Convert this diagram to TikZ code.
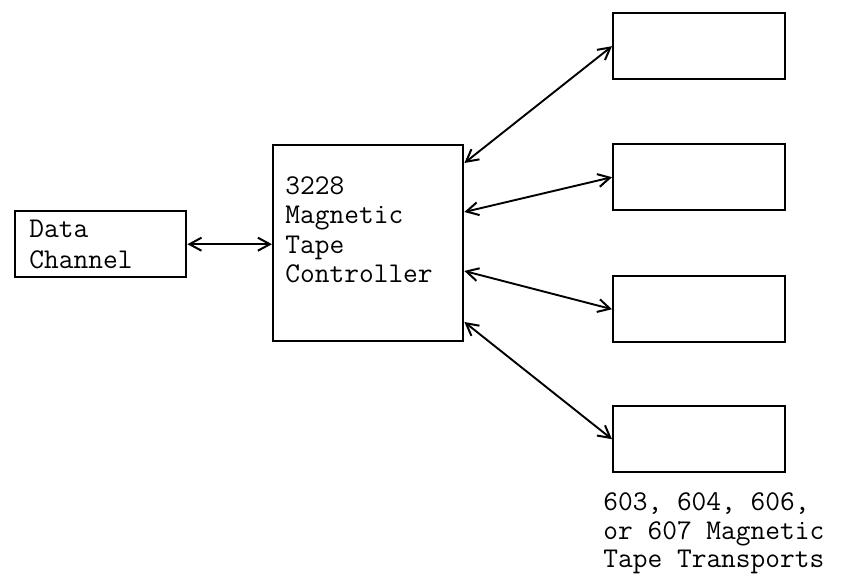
\documentclass[tikz,border=0pt]{standalone}
\usetikzlibrary{arrows.meta,calc}
\tikzset{
  box/.style={draw, line width=1.2pt, anchor=north west, inner sep=0pt, minimum width=86pt, minimum height=33pt},
  lbl/.style={anchor=base west, inner sep=0pt, font=\ttfamily\fontsize{14.3}{14.5}\selectfont},
  link/.style={line width=0.95pt, {Straight Barb[length=6pt,width=6.5pt,line width=1pt]}-{Straight Barb[length=6pt,width=6.5pt,line width=1pt]}}
}
\begin{document}
\begin{tikzpicture}[x=0.5pt,y=-0.5pt]
\useasboundingbox (0,0) rectangle (843,580);
\node[box, minimum width=85.5pt] (dc) at (14,210) {};
\node[box, minimum width=95pt, minimum height=98pt] (ctrl) at (272,144) {};
\node[box] (t1) at (612,12) {};
\node[box] (t2) at (612,143) {};
\node[box] (t3) at (612,275) {};
\node[box] (t4) at (612,405) {};
% texts
\node[lbl] (dca) at (29,237) {Data};
\node[lbl] (dcb) at (29,268) {Channel};
\node[lbl] (c1) at (285,194) {3228};
\node[lbl] (c2) at (285,223) {Magnetic};
\node[lbl] (c3) at (285,253) {Tape};
\node[lbl] (c4) at (285,282) {Controller};
\node[lbl] (b1) at (603,510) {603, 604, 606,};
\node[lbl] (b2) at (603,539) {or 607 Magnetic};
\node[lbl] (b3) at (603,567) {Tape Transports};
% connectors
\coordinate (e1) at ($(ctrl.north east)+(0,19)$);
\coordinate (e2) at ($(ctrl.north east)+(0,68)$);
\coordinate (e3) at ($(ctrl.north east)+(0,127)$);
\coordinate (e4) at ($(ctrl.north east)+(0,178)$);
\draw[link] (dc.east) -- (dc.east -| ctrl.west);
\draw[link] (e1) -- (t1.west);
\draw[link] (e2) -- (t2.west);
\draw[link] (e3) -- (t3.west);
\draw[link] (e4) -- (t4.west);
\end{tikzpicture}
\end{document}
